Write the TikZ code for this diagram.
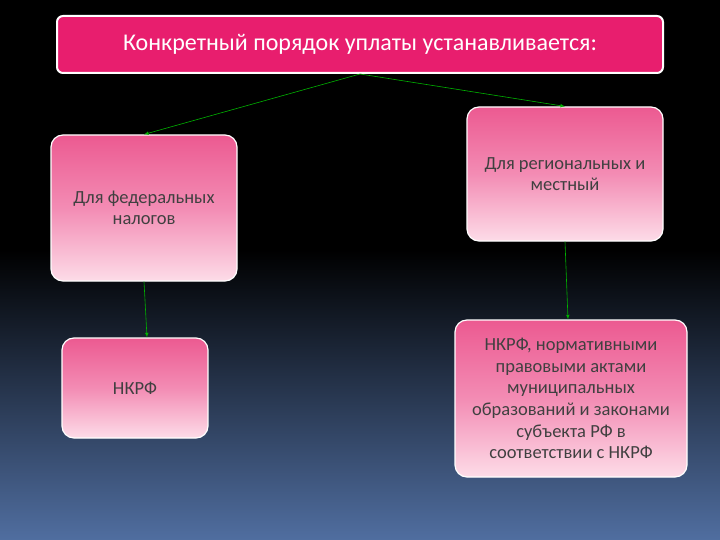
\documentclass[tikz,border=0pt]{standalone}
\usepackage{fontspec}
\setmainfont{Carlito}
\definecolor{pktop}{RGB}{236,90,145}
\definecolor{pkmid}{RGB}{243,140,180}
\definecolor{pkbot}{RGB}{253,220,232}
\begin{document}
\begin{tikzpicture}[x=1pt,y=-1pt,
 box/.style={draw=white,line width=1.2pt,rounded corners=12pt,top color=pktop,bottom color=pkbot,middle color=pkmid,align=center,text=black!75,font=\fontsize{18.5}{21.6}\selectfont,inner sep=2pt},
 conn/.style={draw=green!70!black,line width=0.6pt,-latex}]
\shade[top color=black,bottom color=black] (0,0) rectangle (720,250);
\shade[top color=black,bottom color={rgb,255:red,80;green,110;blue,160}] (0,250) rectangle (720,540);
\useasboundingbox (0,0) rectangle (720,540);
\node[draw=white,line width=2pt,rounded corners=6pt,fill={rgb,255:red,232;green,30;blue,110},minimum width=606,minimum height=57,text=white,font=\fontsize{24}{28}\selectfont] (top) at (360,44.5) {Конкретный порядок уплаты устанавливается:};
\node[box,minimum width=186,minimum height=146] (fed) at (144,208) {Для федеральных\\налогов};
\node[box,minimum width=196,minimum height=134] (reg) at (565,174) {Для региональных и\\местный};
\node[box,minimum width=146,minimum height=100] (nk) at (135,388) {НКРФ};
\node[box,minimum width=232,minimum height=157] (nk2) at (571,398.5) {НКРФ, нормативными\\правовыми актами\\муниципальных\\образований и законами\\субъекта РФ в\\соответствии с НКРФ};
\draw[conn] (top.south) -- (fed.north);
\draw[conn] (top.south) -- (reg.north);
\draw[conn] (fed.south) -- (nk.north -| 147,0);
\draw[conn] (reg.south) -- (nk2.north -| 568,0);
\end{tikzpicture}
\end{document}
